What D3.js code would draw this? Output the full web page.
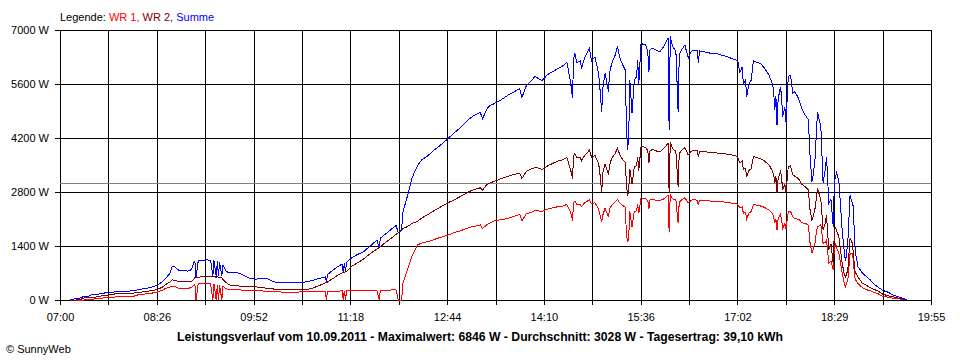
<!DOCTYPE html>
<html><head><meta charset="utf-8">
<script src="https://cdn.jsdelivr.net/npm/d3@7"></script>
<style>body{margin:0;background:#fff}svg{display:block}</style>
</head><body>
<svg id="c" width="960" height="360"></svg>
<script>
const times = ["07:09","07:14","07:18","07:21","07:25","07:29","07:35","07:39","07:44","07:52","07:59","08:05","08:09","08:14","08:20","08:26","08:31","08:34","08:38","08:40","08:42","08:45","08:49","08:54","08:57","08:59","09:00","09:01","09:03","09:07","09:11","09:14","09:16","09:17","09:19","09:20","09:21","09:22","09:24","09:25","09:28","09:31","09:36","09:40","09:45","09:49","09:54","10:00","10:05","10:10","10:18","10:26","10:35","10:41","10:46","10:51","10:56","10:57","10:58","11:03","11:07","11:11","11:12","11:13","11:14","11:15","11:19","11:24","11:30","11:36","11:42","11:44","11:45","11:50","11:55","11:59","12:01","12:04","12:05","12:09","12:13","12:18","12:22","12:27","12:32","12:38","12:45","12:51","12:56","13:02","13:07","13:14","13:16","13:20","13:23","13:25","13:32","13:38","13:43","13:49","13:51","13:55","13:58","14:03","14:05","14:09","14:14","14:19","14:23","14:28","14:31","14:34","14:35","14:36","14:37","14:38","14:40","14:43","14:44","14:47","14:51","14:53","14:56","14:59","15:00","15:02","15:03","15:05","15:08","15:09","15:11","15:14","15:16","15:18","15:20","15:23","15:24","15:25","15:26","15:27","15:29","15:31","15:33","15:34","15:35","15:37","15:41","15:43","15:44","15:45","15:48","15:51","15:54","15:58","16:01","16:02","16:03","16:05","16:08","16:10","16:11","16:13","16:16","16:19","16:21","16:23","16:27","16:28","16:29","16:34","16:40","16:45","16:51","16:56","17:01","17:03","17:05","17:07","17:08","17:10","17:11","17:13","17:15","17:17","17:20","17:23","17:27","17:31","17:34","17:35","17:36","17:37","17:38","17:39","17:41","17:42","17:43","17:45","17:46","17:48","17:50","17:52","17:54","17:57","17:58","18:00","18:03","18:06","18:07","18:09","18:10","18:12","18:13","18:14","18:17","18:19","18:21","18:22","18:23","18:24","18:26","18:28","18:29","18:30","18:31","18:33","18:36","18:38","18:39","18:41","18:43","18:45","18:46","18:47","18:48","18:50","18:54","18:57","19:01","19:04","19:08","19:12","19:17","19:21","19:26","19:30","19:34"];

const summe = [0,40,50,90,95,150,155,180,190,225,225,240,260,290,320,380,470,560,700,880,860,780,760,750,790,960,1000,600,1010,1030,1040,1030,620,1030,600,1000,620,980,620,900,740,700,710,690,620,560,540,555,550,470,450,450,455,480,520,560,600,470,660,780,860,930,720,960,740,980,1080,1170,1250,1400,1550,1350,1600,1720,1840,1930,1750,1820,2270,2680,3150,3480,3640,3730,3870,4000,4180,4340,4460,4640,4760,4860,4700,4960,5050,5070,5180,5300,5380,5480,5250,5560,5650,5800,5750,5690,5850,5930,6000,6080,6160,5700,5500,5240,6250,6400,6150,6200,6000,6300,6520,6200,6300,5900,5650,4880,5500,5880,5400,5900,6140,6350,6570,6300,6140,5960,4490,3890,4200,5700,4840,5700,5790,6220,5600,6650,6610,6450,5900,6500,6520,6470,6440,6610,6800,4400,6830,6570,6450,4880,6350,6480,6610,6270,6420,6480,6470,6150,6460,6430,6390,6380,6330,6280,6230,6200,5900,6050,5600,5700,5270,5600,5700,6200,6160,6140,6010,5820,5600,5400,4930,5300,4540,5200,5530,5300,4750,5000,4600,5790,5830,5360,5400,5230,5150,4970,4800,4670,3900,3070,3200,3710,4330,4880,4490,3030,3400,3710,3200,2500,2600,1900,3030,3200,3300,3100,1800,1200,1000,1500,2720,2500,2420,1470,1200,860,700,620,520,420,330,250,200,130,80,40,0];

const wr2 = [0,0,10,50,60,70,85,125,130,175,175,180,190,210,235,270,330,400,470,520,510,480,470,470,480,540,580,580,590,605,605,610,600,610,590,600,590,590,570,530,450,390,380,360,350,345,340,320,300,285,270,260,265,280,320,380,440,445,470,560,640,700,705,720,730,740,865,950,1060,1200,1320,1360,1380,1500,1610,1700,1740,1820,1850,1900,1980,2040,2130,2210,2300,2400,2520,2600,2680,2780,2850,2910,2850,3000,3040,3060,3140,3200,3250,3290,3150,3340,3380,3440,3430,3380,3480,3550,3600,3640,3700,3400,3300,3150,3720,3800,3680,3700,3600,3760,3880,3700,3750,3560,3400,2810,3300,3520,3250,3500,3680,3800,3930,3780,3670,3560,3000,2700,2850,3400,3000,3450,3480,3700,3350,3980,3960,3870,3550,3880,3900,3860,3840,3960,4060,2770,4080,3930,3850,2940,3800,3880,3950,3760,3840,3880,3870,3700,3860,3840,3830,3810,3790,3770,3740,3700,3550,3600,3380,3420,3180,3360,3400,3720,3690,3670,3600,3500,3340,3250,3025,3200,2770,3150,3330,3200,2850,3000,2800,3460,3480,3250,3200,3150,3110,3000,2940,2850,2400,2080,2150,2400,2650,2900,2590,1815,2000,2200,1800,1300,1450,950,1750,1900,1800,1640,950,650,600,780,1600,1470,1200,800,700,600,430,390,320,280,230,150,110,85,50,25,0];

const wr1 = [0,0,0,0,20,25,30,60,65,85,85,90,130,150,170,200,250,300,340,360,350,310,300,305,320,390,410,0,420,430,430,420,0,420,0,400,0,390,0,350,290,270,265,260,255,250,245,235,225,215,205,200,210,215,215,220,225,0,225,230,230,235,0,235,0,235,240,240,245,245,250,0,255,255,260,260,0,0,430,780,1130,1425,1480,1510,1560,1620,1680,1750,1790,1860,1900,1945,1850,1960,2000,2040,2080,2110,2160,2220,2050,2240,2260,2320,2310,2300,2360,2390,2420,2440,2480,2300,2200,2060,2520,2560,2480,2480,2420,2530,2590,2500,2520,2380,2250,2030,2200,2380,2150,2360,2460,2540,2610,2520,2470,2400,1700,1500,1600,2300,1900,2300,2310,2480,2250,2650,2630,2580,2350,2600,2600,2580,2580,2630,2720,1770,2740,2620,2590,1990,2540,2590,2650,2520,2570,2600,2590,2460,2590,2580,2560,2560,2540,2520,2500,2480,2380,2420,2250,2280,2100,2250,2300,2480,2460,2440,2400,2330,2250,2150,1990,2100,1815,2100,2220,2100,1860,1980,1850,2290,2300,2150,2110,2090,2075,2000,1990,1940,1550,1210,1300,1500,1750,1900,1950,1470,1500,1550,1300,950,1000,780,1350,1470,1350,1210,690,400,345,520,1200,1200,1000,600,520,430,320,270,240,200,160,95,70,45,30,15,0];

const xTickLabels = ["07:00","08:26","09:52","11:18","12:44","14:10","15:36","17:02","18:29","19:55"];
const yTicks = [0,1400,2800,4200,5600,7000];
const average = 3028;
const legendItems = [{t:"WR 1,", c:"#ff0000"},{t:" WR 2,", c:"#800000"},{t:" Summe", c:"#0000ff"}];
const titleText = "Leistungsverlauf vom 10.09.2011 - Maximalwert: 6846 W - Durchschnitt: 3028 W - Tagesertrag: 39,10 kWh";
const copyright = "\u00A9 SunnyWeb";

const FONT = "'Liberation Sans', Arial, sans-serif";
const toMin = s => { const p = s.split(":").map(Number); return p[0]*60 + p[1]; };
const t0 = toMin(xTickLabels[0]), t1 = toMin(xTickLabels[xTickLabels.length-1]);
const x = d3.scaleLinear().domain([t0, t1]).range([60, 931]);
const y = d3.scaleLinear().domain([0, 7000]).range([300, 30]);
const gridTimes = d3.range(19).map(i => t0 + i*(t1-t0)/18);

const svg = d3.select("#c");
svg.append("rect").attr("width",960).attr("height",360).attr("fill","#fff");

// y axis + horizontal grid
const ya = svg.append("g").attr("transform","translate(55,0)")
  .call(d3.axisLeft(y).tickValues(yTicks).tickSize(-876).tickPadding(6).tickFormat(d => d + " W"));
ya.select(".domain").remove();
ya.selectAll("line").attr("stroke","#000").attr("shape-rendering","crispEdges");
ya.selectAll("text").attr("font-family",FONT).attr("font-size",11).attr("fill","#000").attr("dy","0.36em");

// x axis + vertical grid
const xa = svg.append("g").attr("transform","translate(0,305)")
  .call(d3.axisBottom(x).tickValues(gridTimes).tickSize(-275).tickPadding(8)
    .tickFormat((d,i) => i % 2 === 0 ? xTickLabels[i/2] : ""));
xa.select(".domain").remove();
xa.selectAll("line").attr("stroke","#000").attr("shape-rendering","crispEdges");
xa.selectAll("text").attr("font-family",FONT).attr("font-size",11).attr("fill","#000");

// average line
svg.append("line").attr("x1",60).attr("x2",931)
  .attr("y1",Math.round(y(average))+0.5).attr("y2",Math.round(y(average))+0.5)
  .attr("stroke","#808080").attr("shape-rendering","crispEdges");

const pts = times.map(toMin);
const line = d3.line().x((d,i) => x(pts[i])).y(d => y(d));
[[wr1,"#ff0000"],[wr2,"#800000"],[summe,"#0000ff"]].forEach(([s,c]) => {
  svg.append("path").attr("d", line(s)).attr("fill","none").attr("stroke",c)
    .attr("stroke-width",1).attr("shape-rendering","crispEdges");
});

// legend
const lg = svg.append("text").attr("x",60).attr("y",20.5).attr("font-family",FONT).attr("font-size",11);
lg.append("tspan").text("Legende: ").attr("fill","#000");
legendItems.forEach(it => lg.append("tspan").text(it.t).attr("fill",it.c));

// title
svg.append("text").attr("x",480).attr("y",341).attr("text-anchor","middle")
  .attr("font-family",FONT).attr("font-size",12).attr("font-weight","bold")
  .attr("textLength",606).attr("lengthAdjust","spacingAndGlyphs").text(titleText);

svg.append("text").attr("x",6).attr("y",353).attr("font-family",FONT).attr("font-size",11).text(copyright);
</script>
</body></html>
